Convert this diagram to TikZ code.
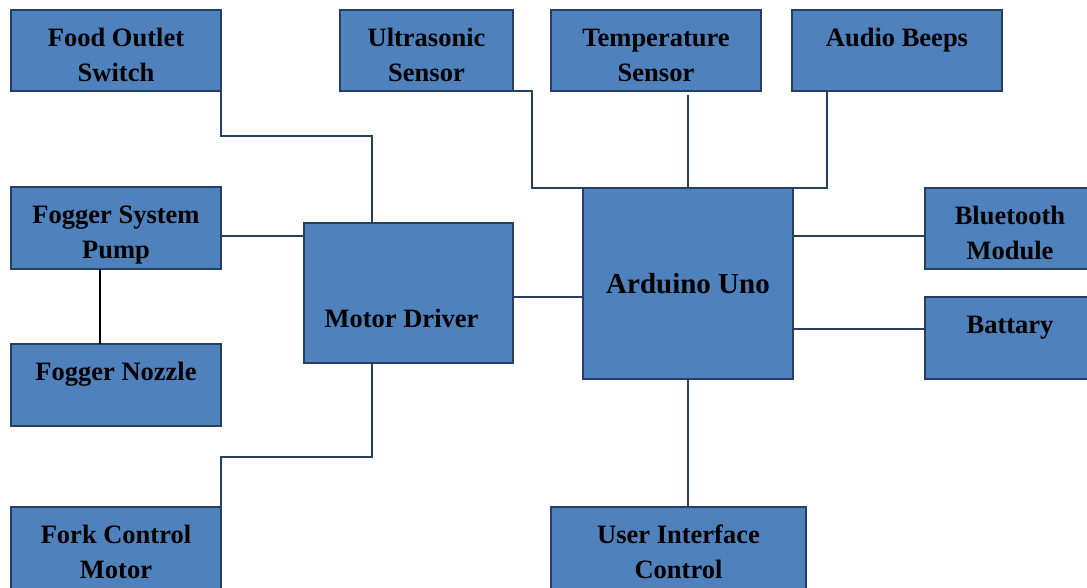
\documentclass[tikz,border=0pt]{standalone}
\usepackage{fontspec}
\setmainfont{Liberation Serif}
\usepackage{tikz}
\usetikzlibrary{positioning}
\definecolor{boxblue}{HTML}{4F81BD}
\definecolor{navy}{HTML}{243F60}

\begin{document}
\begin{tikzpicture}[x=1pt,y=-1pt,
    block/.style={draw=navy,fill=boxblue,line width=1.8pt,outer sep=0pt,anchor=north west},
    txt/.style={anchor=north,inner sep=0pt,align=center,yshift=-12.5pt,
                font=\fontsize{26.5}{34.5}\selectfont\bfseries},
    link/.style={draw=navy,line width=1.5pt}]
  \useasboundingbox (0,0) rectangle (1087,588);

  \node[block,minimum width=210pt,minimum height=81pt,
        label={[txt]north:\strut Food Outlet\\Switch}] (food) at (11,10) {};
  \node[block,minimum width=173pt,minimum height=81pt,
        label={[txt]north:\strut Ultrasonic\\Sensor}] (ultra) at (340,10) {};
  \node[block,minimum width=210pt,minimum height=81pt,
        label={[txt]north:\strut Temperature\\Sensor}] (temp) at (551,10) {};
  \node[block,minimum width=210pt,minimum height=81pt,
        label={[txt]north:\strut Audio Beeps}] (audio) at (792,10) {};
  \node[block,minimum width=210pt,minimum height=82pt,
        label={[txt]north:\strut Fogger System\\Pump}] (pump) at (11,187) {};
  \node[block,minimum width=210pt,minimum height=82pt,
        label={[txt]north:\strut Fogger Nozzle}] (nozzle) at (11,344) {};
  \node[block,minimum width=210pt,minimum height=95pt,
        label={[txt]north:\strut Fork Control\\Motor}] (fork) at (11,507) {};
  \node[block,minimum width=209pt,minimum height=140pt,
        label={[txt,yshift=-68pt,xshift=-7pt]north:\strut Motor Driver}] (motor) at (304,223) {};
  \node[block,minimum width=210pt,minimum height=191pt,
        label={[txt,yshift=-67pt,font=\fontsize{29}{37}\selectfont\bfseries]north:\strut Arduino Uno}] (arduino) at (583,188) {};
  \node[block,minimum width=170pt,minimum height=81pt,
        label={[txt]north:\strut Bluetooth\\Module}] (bt) at (925,188) {};
  \node[block,minimum width=170pt,minimum height=82pt,
        label={[txt]north:\strut Battary}] (battary) at (925,297) {};
  \node[block,minimum width=255pt,minimum height=95pt,
        label={[txt]north:\strut User Interface\\Control}] (ui) at (551,507) {};

  \draw[link] (food.south east) -- ++(0,45) -| ([xshift=68pt]motor.north west);
  \draw[link] (ultra.south east) -- ++(19,0) |- (arduino.north west);
  \draw[link] (arduino.north) -- ++(0,-93);
  \draw[link] ([xshift=35pt]audio.south west) |- (arduino.north east);
  \draw[link] ([yshift=-8pt]pump.east) -- ([yshift=-8pt]pump.east -| motor.west);
  \draw[line width=1.5pt] ([xshift=-16pt]pump.south) -- ([xshift=-16pt]nozzle.north);
  \draw[link] ([xshift=68pt]motor.south west) -- ++(0,94) -| (fork.north east);
  \draw[link] ([yshift=-4pt]motor.east) -- ([yshift=-4pt]motor.east -| arduino.west);
  \draw[link] ([yshift=-7.5pt]bt.west) -- ([yshift=-7.5pt]bt.west -| arduino.east);
  \draw[link] ([yshift=9pt]battary.west) -- ([yshift=9pt]battary.west -| arduino.east);
  \draw[link] (arduino.south) -- (ui.north -| arduino.south);
\end{tikzpicture}
\end{document}
